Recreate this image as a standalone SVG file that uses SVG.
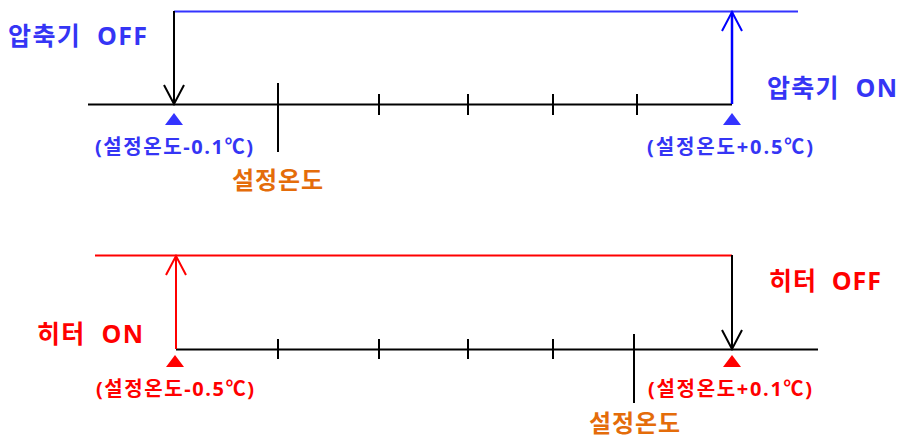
<svg xmlns="http://www.w3.org/2000/svg" width="902" height="439" viewBox="0 0 902 439">
<style>
text{font-family:"Open Sans","Noto Sans CJK KR",sans-serif;font-weight:bold;white-space:pre}
.blue{fill:#3535F5}
.red{fill:#FF0000}
.orange{fill:#E46C0A}
.lbl{font-size:20px;text-anchor:middle}
.big{font-size:25px}
.org{font-size:24px}
.ax{stroke:#000;stroke-width:2;fill:none}
.tk{stroke:#000;stroke-width:2}
</style>
<defs>
<marker id="ahK" viewBox="-20 -11 22 22" markerWidth="22" markerHeight="22" refX="0" refY="0" orient="auto" markerUnits="userSpaceOnUse"><path d="M-19,-10 L0,0 L-19,10" fill="none" stroke="#000" stroke-width="2"/></marker>
<marker id="ahB" viewBox="-20 -11 22 22" markerWidth="22" markerHeight="22" refX="0" refY="0" orient="auto" markerUnits="userSpaceOnUse"><path d="M-19,-10 L0,0 L-19,10" fill="none" stroke="#0000FF" stroke-width="2"/></marker>
<marker id="ahR" viewBox="-20 -11 22 22" markerWidth="22" markerHeight="22" refX="0" refY="0" orient="auto" markerUnits="userSpaceOnUse"><path d="M-19,-10 L0,0 L-19,10" fill="none" stroke="#FF0000" stroke-width="2"/></marker>
</defs>

<g id="top-axis">
<line class="ax" x1="88" y1="104.5" x2="732" y2="104.5"/>
<line class="tk" x1="278" y1="83" x2="278" y2="152"/>
<line class="tk" x1="379" y1="94" x2="379" y2="115"/>
<line class="tk" x1="468" y1="94" x2="468" y2="115"/>
<line class="tk" x1="553" y1="94" x2="553" y2="115"/>
<line class="tk" x1="637" y1="94" x2="637" y2="115"/>
</g>
<g id="top-connectors">
<line x1="174" y1="11.5" x2="798" y2="11.5" stroke="#3333FF" stroke-width="2"/>
<line x1="174" y1="11" x2="174" y2="104" stroke="#000" stroke-width="2" marker-end="url(#ahK)"/>
<line x1="732" y1="104" x2="732" y2="12" stroke="#0000FF" stroke-width="2.5" marker-end="url(#ahB)"/>
</g>
<g id="top-markers">
<polygon points="174,113 183,125 165,125" fill="#3333FF"/>
<polygon points="732,113 741,125 723,125" fill="#3333FF"/>
</g>
<g id="top-labels">
<text class="blue big" x="8" y="45" textLength="139" lengthAdjust="spacing">압축기  OFF</text>
<text class="blue big" x="767" y="97" textLength="130" lengthAdjust="spacing">압축기  ON</text>
<text class="blue lbl" x="174" y="154" textLength="158" lengthAdjust="spacing">(설정온도-0.1℃)</text>
<text class="blue lbl" x="730" y="154" textLength="166" lengthAdjust="spacing">(설정온도+0.5℃)</text>
<text class="orange org" x="232" y="189" textLength="91" lengthAdjust="spacing">설정온도</text>
</g>

<g id="bottom-axis">
<line class="ax" x1="176" y1="349.5" x2="818" y2="349.5"/>
<line class="tk" x1="278" y1="339" x2="278" y2="359"/>
<line class="tk" x1="379" y1="339" x2="379" y2="359"/>
<line class="tk" x1="468" y1="339" x2="468" y2="359"/>
<line class="tk" x1="553" y1="339" x2="553" y2="359"/>
<line class="tk" x1="634" y1="334" x2="634" y2="403"/>
</g>
<g id="bottom-connectors">
<line x1="95" y1="255.5" x2="732" y2="255.5" stroke="#FF0000" stroke-width="2"/>
<line x1="176" y1="349" x2="176" y2="256" stroke="#FF0000" stroke-width="2" marker-end="url(#ahR)"/>
<line x1="732" y1="255" x2="732" y2="349" stroke="#000" stroke-width="2" marker-end="url(#ahK)"/>
</g>
<g id="bottom-markers">
<polygon points="175,355 184,367 166,367" fill="#FF0000"/>
<polygon points="732,355 741,367 723,367" fill="#FF0000"/>
</g>
<g id="bottom-labels">
<text class="red big" x="37" y="343" textLength="106" lengthAdjust="spacing">히터  ON</text>
<text class="red big" x="769" y="290" textLength="112" lengthAdjust="spacing">히터  OFF</text>
<text class="red lbl" x="175" y="396" textLength="158" lengthAdjust="spacing">(설정온도-0.5℃)</text>
<text class="red lbl" x="730" y="396" textLength="164" lengthAdjust="spacing">(설정온도+0.1℃)</text>
<text class="orange org" x="589" y="432" textLength="91" lengthAdjust="spacing">설정온도</text>
</g>
</svg>
